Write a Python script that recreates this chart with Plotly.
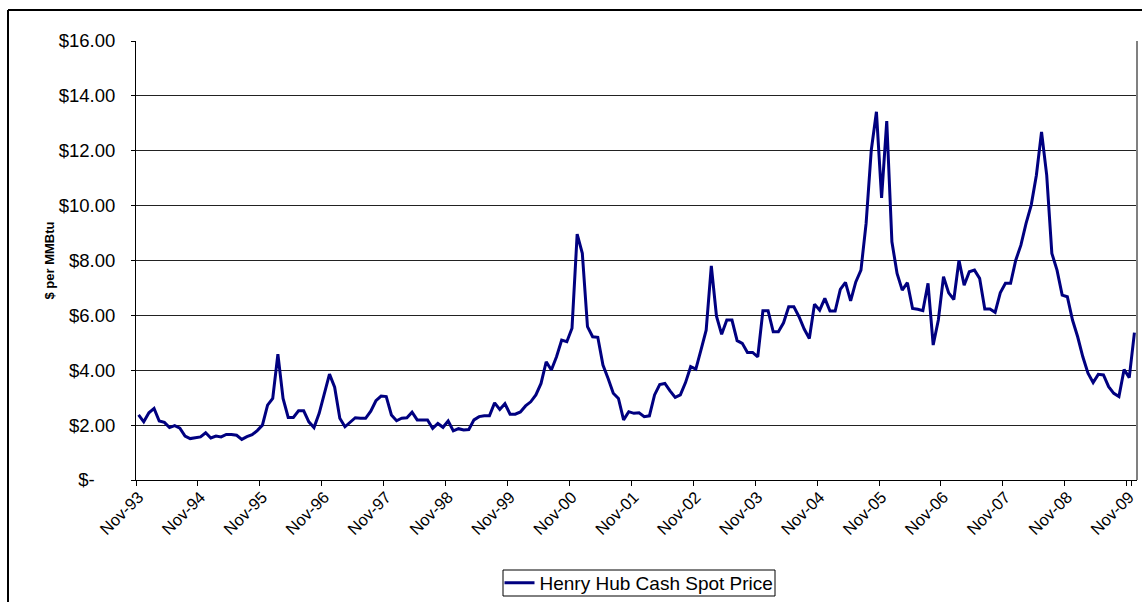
import pandas as pd
import plotly.graph_objects as go

months = list(pd.date_range("1993-11-01", periods=194, freq="MS").strftime("%b-%y"))

prices = [
    2.37, 2.12, 2.45, 2.61, 2.15, 2.10, 1.91, 1.98, 1.89, 1.60, 1.51, 1.55,
    1.57, 1.72, 1.53, 1.60, 1.57, 1.66, 1.66, 1.63, 1.48, 1.58, 1.65, 1.80,
    2.00, 2.73, 2.97, 4.59, 2.97, 2.28, 2.28, 2.52, 2.52, 2.12, 1.91, 2.43,
    3.10, 3.86, 3.38, 2.25, 1.94, 2.09, 2.27, 2.25, 2.25, 2.51, 2.89, 3.06,
    3.04, 2.37, 2.16, 2.25, 2.27, 2.47, 2.19, 2.19, 2.19, 1.88, 2.06, 1.92,
    2.15, 1.79, 1.87, 1.82, 1.84, 2.19, 2.31, 2.34, 2.34, 2.81, 2.57, 2.78,
    2.40, 2.40, 2.48, 2.70, 2.85, 3.10, 3.52, 4.31, 4.01, 4.49, 5.10, 5.04,
    5.53, 8.96, 8.26, 5.59, 5.22, 5.20, 4.19, 3.70, 3.16, 2.97, 2.19, 2.49,
    2.43, 2.45, 2.31, 2.34, 3.10, 3.48, 3.52, 3.25, 3.01, 3.10, 3.55, 4.13,
    4.04, 4.74, 5.46, 7.80, 5.97, 5.31, 5.83, 5.83, 5.08, 4.98, 4.65, 4.65,
    4.49, 6.17, 6.17, 5.40, 5.40, 5.73, 6.31, 6.31, 5.95, 5.50, 5.16, 6.41,
    6.19, 6.62, 6.16, 6.16, 6.95, 7.20, 6.53, 7.22, 7.65, 9.35, 12.02, 13.42,
    10.28, 13.08, 8.68, 7.53, 6.92, 7.19, 6.25, 6.22, 6.17, 7.17, 4.92, 5.83,
    7.41, 6.82, 6.58, 8.01, 7.10, 7.59, 7.65, 7.35, 6.23, 6.23, 6.11, 6.82,
    7.17, 7.17, 8.01, 8.56, 9.35, 10.02, 11.11, 12.69, 11.11, 8.26, 7.65, 6.74,
    6.68, 5.83, 5.22, 4.49, 3.89, 3.55, 3.85, 3.83, 3.40, 3.16, 3.04, 4.03,
    3.73, 5.37,
]

x_tick_labels = months[::12]
y_tick_values = [0, 2, 4, 6, 8, 10, 12, 14, 16]
y_tick_labels = ["$-" + "\u00a0" * 4, "$2.00", "$4.00", "$6.00", "$8.00",
                 "$10.00", "$12.00", "$14.00", "$16.00"]

FONT = "Arial, Liberation Sans, sans-serif"

fig = go.Figure()
fig.add_trace(go.Scatter(
    x=months, y=prices, mode="lines",
    name="Henry Hub Cash Spot Price",
    line=dict(color="#000080", width=3),
))

W, H = 1142, 602
L, R, T, B = 136, 5, 41, 122
pw, ph = W - L - R, H - T - B

def px_x(p):
    return (p - L) / pw

def px_y(p):
    return (H - B - p) / ph

fig.update_layout(
    width=W, height=H,
    margin=dict(l=L, r=R, t=T, b=B, autoexpand=False),
    paper_bgcolor="white", plot_bgcolor="white",
    font=dict(family=FONT, color="black"),
    showlegend=True,
    legend=dict(
        orientation="h", x=0.5025, xanchor="center", y=px_y(583), yanchor="middle",
        borderwidth=0, bgcolor="rgba(0,0,0,0)",
        font=dict(size=19, family=FONT),
    ),
    xaxis=dict(
        type="category", range=[-0.5, 193.5],
        tickmode="array", tickvals=x_tick_labels, ticktext=x_tick_labels,
        tickson="boundaries", ticks="outside", ticklen=5, tickcolor="black",
        tickangle=-45, tickfont=dict(size=16.5, family=FONT),
        showline=True, linecolor="black", linewidth=1,
        showgrid=False, zeroline=False,
    ),
    yaxis=dict(
        range=[0, 16], tickmode="array", tickvals=y_tick_values, ticktext=y_tick_labels,
        ticks="outside", ticklen=4, tickcolor="black", ticklabelstandoff=12,
        tickfont=dict(size=18.5, family=FONT),
        showline=True, linecolor="black", linewidth=1,
        showgrid=True, gridcolor="#222222", gridwidth=1,
        zeroline=False,
        title=dict(text="<b>$ per MMBtu</b>", font=dict(size=13, family=FONT), standoff=1),
    ),
    shapes=[
        dict(type="line", xref="paper", yref="paper",
             x0=px_x(8), y0=px_y(10), x1=px_x(1200), y1=px_y(10),
             line=dict(color="black", width=2)),
        dict(type="line", xref="paper", yref="paper",
             x0=px_x(8), y0=px_y(10), x1=px_x(8), y1=px_y(700),
             line=dict(color="black", width=2)),
        dict(type="line", xref="paper", yref="paper",
             x0=1, y0=0, x1=1, y1=1, line=dict(color="#808080", width=2)),
        # legend frame
        dict(type="rect", xref="paper", yref="paper",
             x0=px_x(503), y0=px_y(596), x1=px_x(775), y1=px_y(570),
             line=dict(color="black", width=1), fillcolor="rgba(0,0,0,0)"),
    ],
)

fig.write_html("out.html")
